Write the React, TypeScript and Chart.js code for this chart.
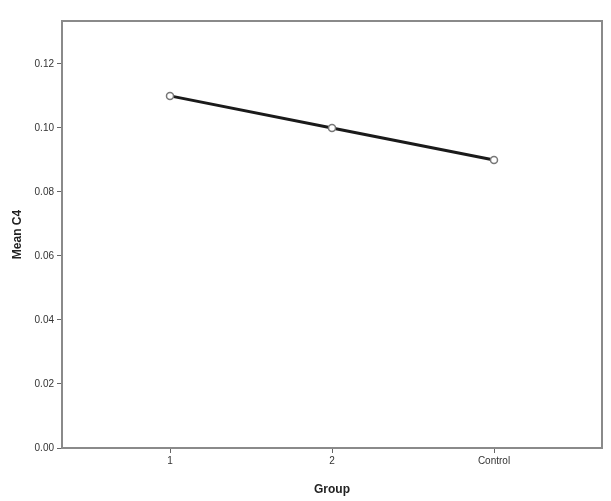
import React, { useEffect, useRef } from "react";
import { Chart, registerables } from "chart.js";
Chart.register(...registerables);

const categories = ["1", "2", "Control"];
const meanC4 = [0.11, 0.1, 0.09];
const yTicks = [0, 0.02, 0.04, 0.06, 0.08, 0.1, 0.12];

const frame = {
  id: "frame",
  afterDraw(chart: any) {
    const { ctx, chartArea: a } = chart;
    ctx.save();
    ctx.strokeStyle = "#8a8a8a";
    ctx.lineWidth = 2;
    ctx.strokeRect(a.left, a.top, a.right - a.left, a.bottom - a.top);
    ctx.restore();
  },
};

export default function App() {
  const ref = useRef<HTMLCanvasElement>(null);
  useEffect(() => {
    const chart = new Chart(ref.current!, {
      type: "line",
      data: {
        datasets: [
          {
            data: meanC4.map((v, i) => ({ x: i, y: v })),
            borderColor: "#1a1a1a",
            borderWidth: 3,
            pointRadius: 3.5,
            pointBackgroundColor: "#ffffff",
            pointBorderColor: "#777777",
            pointBorderWidth: 1.5,
            tension: 0,
          },
        ],
      },
      plugins: [frame],
      options: {
        animation: false,
        responsive: false,
        maintainAspectRatio: false,
        layout: { padding: { left: 0, top: 21, right: 9, bottom: 0 } },
        plugins: { legend: { display: false }, tooltip: { enabled: false } },
        scales: {
          x: {
            type: "linear",
            min: -2 / 3,
            max: 2 + 2 / 3,
            afterBuildTicks: (s: any) => {
              s.ticks = categories.map((_, i) => ({ value: i }));
            },
            afterFit: (s: any) => {
              s.height = 53;
            },
            ticks: {
              callback: (v: any) => categories[v as number] ?? "",
              color: "#333",
              font: { family: "Liberation Sans", size: 10 },
              padding: 2,
              maxRotation: 0,
            },
            grid: { drawOnChartArea: false, drawTicks: true, tickLength: 5, color: "#666" },
            border: { display: false },
            title: {
              display: true,
              text: "Group",
              color: "#222",
              font: { family: "Liberation Sans", size: 12, weight: "bold" },
              padding: { top: 12 },
            },
          },
          y: {
            min: 0,
            max: 0.1334,
            afterBuildTicks: (s: any) => {
              s.ticks = yTicks.map((v) => ({ value: v }));
            },
            afterFit: (s: any) => {
              s.width = 62;
            },
            ticks: {
              callback: (v: any) => Number(v).toFixed(2),
              color: "#333",
              font: { family: "Liberation Sans", size: 10 },
              padding: 3,
            },
            grid: { drawOnChartArea: false, drawTicks: true, tickLength: 5, color: "#666" },
            border: { display: false },
            title: {
              display: true,
              text: "Mean C4",
              color: "#222",
              font: { family: "Liberation Sans", size: 12, weight: "bold" },
              padding: { top: 10, bottom: 4 },
            },
          },
        },
      },
    } as any);
    return () => chart.destroy();
  }, []);
  return (
    <div style={{ position: "absolute", left: 0, top: 0, width: 611, height: 501, background: "#fff" }}>
      <canvas ref={ref} width={611} height={501} style={{ width: 611, height: 501 }} />
    </div>
  );
}
